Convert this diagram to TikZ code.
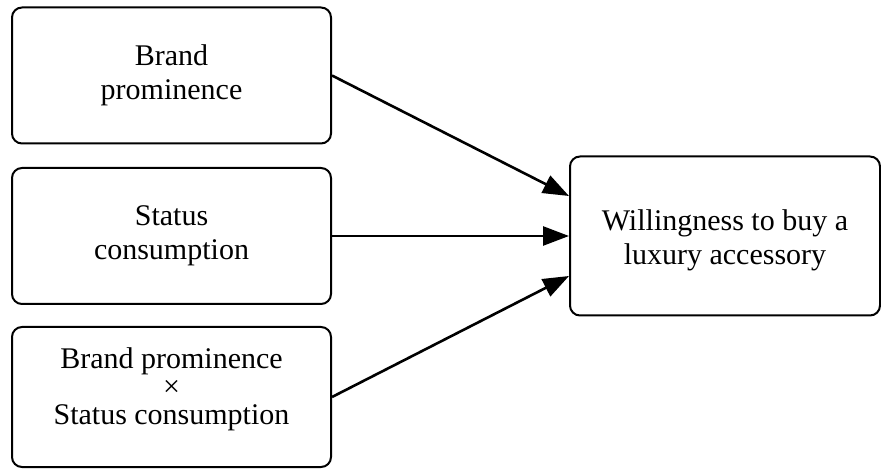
\documentclass[tikz,border=0pt]{standalone}
\usepackage{fontspec}
\setmainfont{Liberation Serif}
\usetikzlibrary{arrows.meta}

\begin{document}
\begin{tikzpicture}[
    >={Triangle[length=13pt,width=9.5pt]},
    x=0.5pt, y=-0.5pt,
    every node/.style={
        draw,
        line width=1pt,
        rounded corners=5pt,
        align=center,
        inner sep=0pt,
        font=\fontsize{15}{17}\selectfont
    },
    factor/.style={minimum width=159.5pt, minimum height=68pt},
    outcome/.style={minimum width=155pt, minimum height=79.5pt},
    link/.style={->, line width=1.3pt}
]

\useasboundingbox (0,0) rectangle (881,469);

%---------------------------------
% Nodes
%---------------------------------

% Predictors
\node[factor] (prom)   at (171.5, 75.5) {Brand\\prominence};
\node[factor] (status) at (171.5,236)   {Status\\consumption};
\node[factor, minimum height=70pt] (inter) at (171.5,397)
    {Brand prominence\\[-3pt]\texttimes\\[-3pt]Status consumption\rule[-11pt]{0pt}{11pt}};

% Outcome
\node[outcome] (will) at (725,236) {\rule{0pt}{15pt}Willingness to buy a\\luxury accessory};

%---------------------------------
% Arrows
%---------------------------------

\draw[link] (prom.east)   -- ([yshift=20pt]will.west);
\draw[link] (status.east) -- (will.west);
\draw[link] (inter.east)  -- ([yshift=-20pt]will.west);

\end{tikzpicture}
\end{document}
